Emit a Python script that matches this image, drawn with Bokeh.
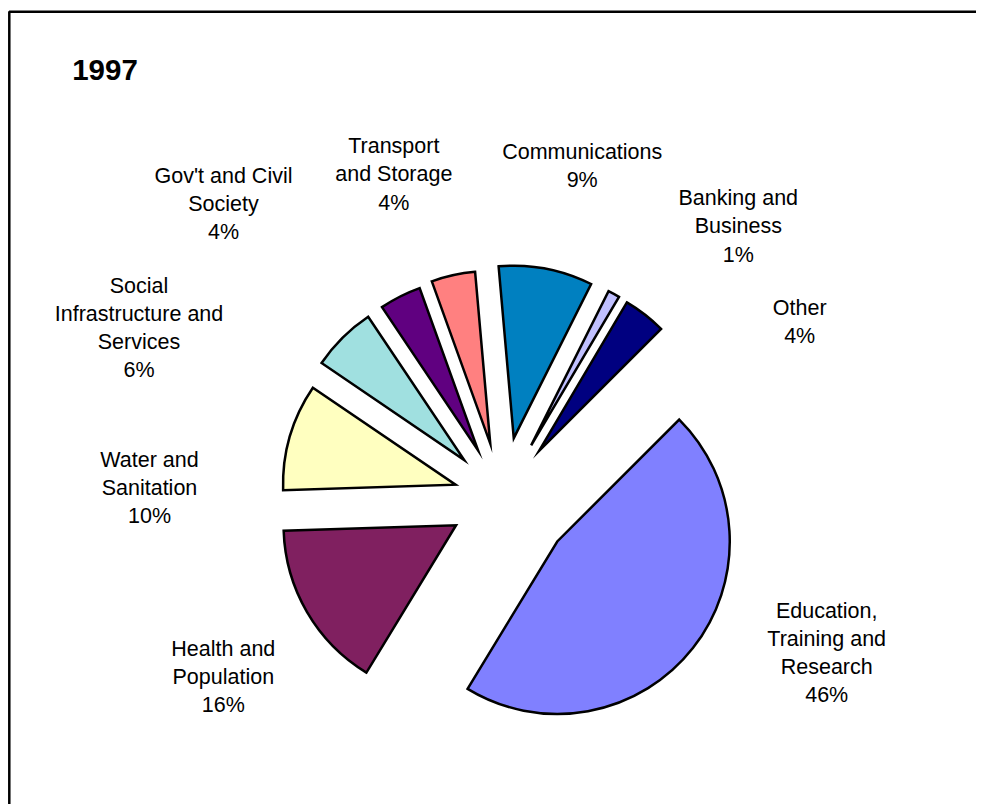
import math
from bokeh.plotting import figure
from bokeh.models import ColumnDataSource, Range1d
from bokeh.core.properties import value
from bokeh.embed import file_html
from bokeh.resources import INLINE

# ---- data (clockwise order, first slice starts at first_angle) ----
categories = [
    "Education, Training and Research",
    "Health and Population",
    "Water and Sanitation",
    "Social Infrastructure and Services",
    "Gov't and Civil Society",
    "Transport and Storage",
    "Communications",
    "Banking and Business",
    "Other",
]
label_text = [
    "Education,\nTraining and\nResearch",
    "Health and\nPopulation",
    "Water and\nSanitation",
    "Social\nInfrastructure and\nServices",
    "Gov't and Civil\nSociety",
    "Transport\nand Storage",
    "Communications",
    "Banking and\nBusiness",
    "Other",
]
shares = [46.2, 15.8, 10.0, 6.1, 3.9, 4.1, 8.8, 1.1, 4.0]
colors = ["#8080FF", "#802060", "#FFFFC0", "#A0E0E0", "#600080",
          "#FF8080", "#0080C0", "#C0C0FF", "#000080"]
title = "1997"

# ---- layout / style ----
W, H = 976, 804
first_angle = 45.0          # degrees clockwise from 12 o'clock
explode = [69.9, 53.5, 48.7, 54.0, 53.7, 56.0, 61.2, 60.3, 60.0]   # px
pie_cx, pie_cy = 501.8, H - 497.8
R = 172.5
# label anchor: (centre x, cap-top y) in page pixels
label_pos = [(826.2, 603.3), (222.8, 641.7), (149.0, 452.7), (138.5, 278.3),
             (223.0, 168.3), (393.3, 139.0), (581.7, 145.0), (737.8, 191.0),
             (799.2, 301.0)]
FONT = "Liberation Sans"
FS = 21.5
CAP = 14.7
LINE_H = 28.2
TEXT_Y0 = H + 8   # text baseline reference

p = figure(width=W, height=H, x_range=Range1d(0, W), y_range=Range1d(0, H),
           output_backend="svg", toolbar_location=None, min_border=0,
           x_axis_location=None, y_axis_location=None)
p.grid.visible = False
p.outline_line_color = None
p.background_fill_color = "white"
p.border_fill_color = "white"

total = sum(shares)
xs, ys, sa, ea = [], [], [], []
cum = first_angle
for s, e in zip(shares, explode):
    a0 = cum
    a1 = cum + s / total * 360.0
    mid = math.radians((a0 + a1) / 2)
    xs.append(pie_cx + e * math.sin(mid))
    ys.append(pie_cy + e * math.cos(mid))
    sa.append(math.radians(90 - a0))
    ea.append(math.radians(90 - a1))
    cum = a1

src = ColumnDataSource(dict(x=xs, y=ys, start=sa, end=ea, color=colors, cat=categories))
p.wedge(x="x", y="y", radius=R, start_angle="start", end_angle="end",
        direction="clock", fill_color="color", line_color="black",
        line_width=2.5, line_join="miter", source=src)

# labels
tx, ty, tt = [], [], []
for lab, s, (lx, ltop) in zip(label_text, shares, label_pos):
    lines = lab.split("\n") + [f"{round(s)}%"]
    for i, ln in enumerate(lines):
        tx.append(lx)
        ty.append(TEXT_Y0 - (ltop + CAP + i * LINE_H))
        tt.append(ln)
p.text(x=tx, y=ty, text=tt, text_align="center", text_baseline="alphabetic",
       text_font=value(FONT), text_font_size=f"{FS}px", text_color="black")

# title
p.text(x=[71.7], y=[TEXT_Y0 - 77.7], text=[title], text_align="left",
       text_baseline="alphabetic", text_font=value(FONT),
       text_font_size="29.5px", text_font_style="bold", text_color="black")

# chart-area border (left and top edges visible)
p.line(x=[8.8, 8.8, 1000], y=[-20, H - 11.3, H - 11.3],
       line_color="black", line_width=2.5)

open("out.html", "w").write(file_html(p, INLINE))
